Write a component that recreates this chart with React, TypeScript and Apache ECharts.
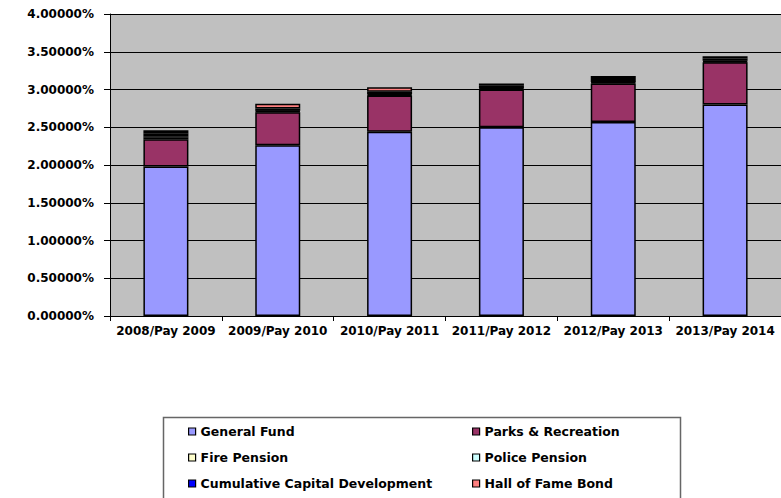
import React, { useEffect, useRef } from "react";
import * as echarts from "echarts";

const categories = ["2008/Pay 2009", "2009/Pay 2010", "2010/Pay 2011", "2011/Pay 2012", "2012/Pay 2013", "2013/Pay 2014"];
const generalFund = [1.98, 2.26, 2.44, 2.5, 2.57, 2.8];
const parksRecreation = [0.36, 0.44, 0.48, 0.5, 0.51, 0.56];
const firePension = [0.02, 0.01, 0.01, 0.01, 0.01, 0.01];
const policePension = [0.02, 0.01, 0.01, 0.01, 0.01, 0.01];
const cumulativeCapital = [0.04, 0.03, 0.03, 0.03, 0.04, 0.03];
const hallOfFame = [0.04, 0.06, 0.06, 0.03, 0.04, 0.03];
const yTicks = { min: 0, max: 4, interval: 0.5 };

const FONT = "DejaVu Sans";

export default function App() {
  const ref = useRef<HTMLDivElement>(null);
  useEffect(() => {
    if (!ref.current) return;
    const chart = echarts.init(ref.current, null, { renderer: "svg" });
    const mk = (name: string, data: number[], color: string) => ({
      name,
      type: "bar",
      stack: "total",
      data,
      barWidth: 45,
      itemStyle: { color, borderColor: "#000", borderWidth: 1.5 },
    });
    const legendText = { fontFamily: FONT, fontWeight: "bold", fontSize: 12.5, color: "#000", lineHeight: 15 };
    const legendBase = {
      orient: "vertical",
      top: 424,
      height: 120,
      padding: 0,
      itemWidth: 7,
      itemHeight: 7,
      itemGap: 11,
      itemTextGap: 3,
      icon: "rect",
      itemStyle: { borderColor: "#000", borderWidth: 1.2 },
      textStyle: legendText,
      selectedMode: false,
    };
    chart.setOption({
      animation: false,
      backgroundColor: "#fff",
      grid: {
        left: 110,
        top: 14,
        width: 677,
        bottom: 182,
        show: true,
        backgroundColor: "#C0C0C0",
        borderWidth: 0,
      },
      xAxis: {
        type: "category",
        data: categories,
        axisLine: { lineStyle: { color: "#000", width: 1 } },
        axisTick: { show: true, length: 5, lineStyle: { color: "#000" } },
        axisLabel: { fontFamily: FONT, fontWeight: "bold", fontSize: 12, color: "#000", margin: 9, interval: 0 },
      },
      yAxis: {
        type: "value",
        min: yTicks.min,
        max: yTicks.max,
        interval: yTicks.interval,
        axisLine: { show: true, lineStyle: { color: "#000", width: 1 } },
        axisTick: { show: true, length: 6, lineStyle: { color: "#000" } },
        splitLine: { show: true, lineStyle: { color: "#000", width: 1 } },
        axisLabel: {
          fontFamily: FONT,
          fontWeight: "bold",
          fontSize: 12,
          color: "#000",
          margin: 16,
          formatter: (v: number) => v.toFixed(5) + "%",
        },
      },
      legend: [
        { ...legendBase, left: 188, data: ["General Fund", "Fire Pension", "Cumulative Capital Development"] },
        { ...legendBase, left: 472, data: ["Parks & Recreation", "Police Pension", "Hall of Fame Bond"] },
      ],
      graphic: [
        {
          type: "rect",
          shape: { x: 163.5, y: 417.5, width: 517, height: 100 },
          style: { fill: "none", stroke: "#666", lineWidth: 1.5 },
          z: 0,
        },
      ],
      series: [
        mk("General Fund", generalFund, "#9999FF"),
        mk("Parks & Recreation", parksRecreation, "#993366"),
        mk("Fire Pension", firePension, "#FFFFCC"),
        mk("Police Pension", policePension, "#CCFFFF"),
        mk("Cumulative Capital Development", cumulativeCapital, "#0000FF"),
        mk("Hall of Fame Bond", hallOfFame, "#FF8080"),
      ],
    });
    return () => chart.dispose();
  }, []);
  return <div ref={ref} style={{ position: "absolute", left: 0, top: 0, width: 781, height: 498 }} />;
}
